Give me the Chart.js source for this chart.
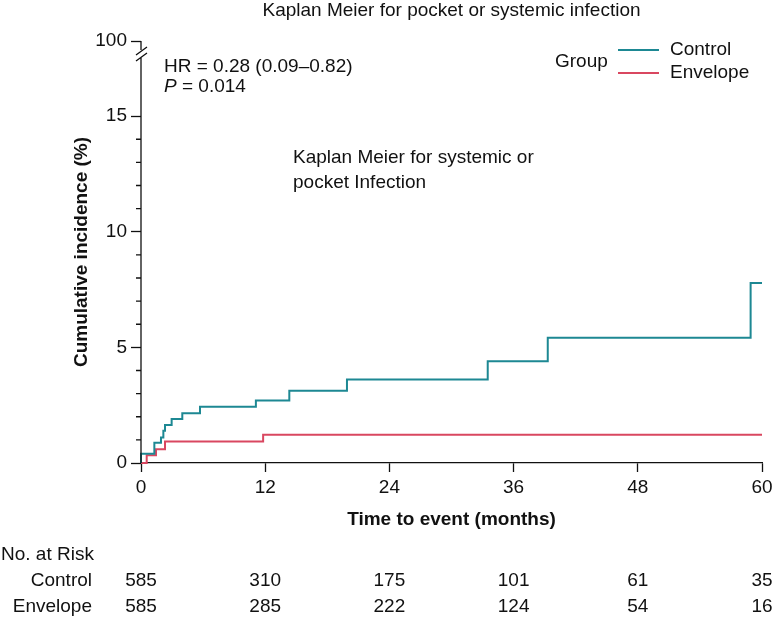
<!DOCTYPE html>
<html>
<head>
<meta charset="utf-8">
<script src="https://cdn.jsdelivr.net/npm/chart.js@4.4.0/dist/chart.umd.min.js"></script>
<style>
  html, body { margin: 0; padding: 0; background: #fff; }
</style>
</head>
<body>
<canvas id="km" width="773" height="619"></canvas>
<script>
// ── data ──────────────────────────────────────────────────────
const controlTimes  = [0, 0, 1.29, 1.93, 2.16, 2.32, 2.96, 3.99, 5.70, 11.1, 14.33, 19.9, 33.5, 39.3, 58.9, 60];
const controlRisk   = [0, 0.40, 0.88, 1.10, 1.39, 1.64, 1.90, 2.15, 2.43, 2.70, 3.12, 3.61, 4.40, 5.42, 7.78, 7.78];
const envelopeTimes = [0, 0.55, 1.45, 2.32, 11.8, 60];
const envelopeRisk  = [0, 0.33, 0.59, 0.93, 1.22, 1.22];

const riskTimes      = [0, 12, 24, 36, 48, 60];
const controlAtRisk  = [585, 310, 175, 101, 61, 35];
const envelopeAtRisk = [585, 285, 222, 124, 54, 16];

const yMajor = [0, 5, 10, 15];
const yMinor = [1, 2, 3, 4, 6, 7, 8, 9, 11, 12, 13, 14];
const Y_TOP = 18.25;          // drawn position of the broken "100" tick
const Y_TOP_LABEL = "100";

const TEAL = "#1d8893", RED = "#d94760", INK = "#111";
const FONT = "'Liberation Sans', Arial, Helvetica, sans-serif";
const FS = 19;

const pts = (xs, ys) => xs.map((x, i) => ({ x, y: ys[i] }));

// ── decorations: broken axis, minor ticks, texts, risk table ──
const decor = {
  id: "decor",
  afterDraw(chart) {
    const { ctx, chartArea: a, scales: { x, y } } = chart;
    ctx.save();
    ctx.strokeStyle = INK; ctx.lineWidth = 1.3;

    // y axis line with break marks
    const yTop = y.getPixelForValue(Y_TOP);
    ctx.beginPath();
    ctx.moveTo(a.left, yTop); ctx.lineTo(a.left, yTop + 9);
    ctx.moveTo(a.left, yTop + 16); ctx.lineTo(a.left, a.bottom);
    ctx.moveTo(a.left - 5, yTop + 14); ctx.lineTo(a.left + 6, yTop + 6);
    ctx.moveTo(a.left - 5, yTop + 20); ctx.lineTo(a.left + 6, yTop + 12);
    ctx.stroke();

    // minor ticks
    ctx.beginPath();
    yMinor.forEach(v => {
      const py = y.getPixelForValue(v);
      ctx.moveTo(a.left - 5, py); ctx.lineTo(a.left, py);
    });
    ctx.stroke();

    ctx.fillStyle = INK;
    const txt = (s, px, py, size, align = "left", weight = "normal", style = "normal") => {
      ctx.font = `${style} ${weight} ${size}px ${FONT}`;
      ctx.textAlign = align; ctx.textBaseline = "middle";
      ctx.fillText(s, px, py);
    };
    const cx = (a.left + a.right) / 2;

    txt("Kaplan Meier for pocket or systemic infection", cx, 11, FS, "center");
    txt("HR = 0.28 (0.09\u20130.82)", 164, 67, FS);
    txt("P", 164, 87, FS, "left", "normal", "italic");
    ctx.font = `italic normal ${FS}px ${FONT}`;
    const pw = ctx.measureText("P").width;
    txt(" = 0.014", 164 + pw, 87, FS);
    txt("Kaplan Meier for systemic or", 293, 158, FS);
    txt("pocket Infection", 293, 183, FS);

    // legend
    txt("Group", 555, 62, FS);
    ctx.lineWidth = 2;
    [[TEAL, "Control", 50], [RED, "Envelope", 73]].forEach(([c, l, py]) => {
      ctx.strokeStyle = c;
      ctx.beginPath(); ctx.moveTo(618, py); ctx.lineTo(659, py); ctx.stroke();
      txt(l, 670, py, FS);
    });

    // axis titles
    txt("Time to event (months)", cx, 520, FS, "center", "bold");
    ctx.save();
    ctx.translate(82, 252); ctx.rotate(-Math.PI / 2);
    txt("Cumulative incidence (%)", 0, 0, FS, "center", "bold");
    ctx.restore();

    // number at risk table
    txt("No. at Risk", 1, 555, FS);
    txt("Control", 92, 581, FS, "right");
    txt("Envelope", 92, 607, FS, "right");
    riskTimes.forEach((t, i) => {
      const px = x.getPixelForValue(t);
      txt(String(controlAtRisk[i]), px, 581, FS, "center");
      txt(String(envelopeAtRisk[i]), px, 607, FS, "center");
    });
    ctx.restore();
  }
};

new Chart(document.getElementById("km"), {
  type: "line",
  data: {
    datasets: [
      { label: "Control",  data: pts(controlTimes, controlRisk),   borderColor: TEAL, borderWidth: 2, stepped: true, pointRadius: 0, fill: false, clip: false },
      { label: "Envelope", data: pts(envelopeTimes, envelopeRisk), borderColor: RED,  borderWidth: 2, stepped: true, pointRadius: 0, fill: false, clip: false },
    ],
  },
  options: {
    responsive: false, animation: false, devicePixelRatio: 1,
    layout: { padding: { top: 41, right: 11, left: 0, bottom: 0 } },
    plugins: { legend: { display: false }, tooltip: { enabled: false }, title: { display: false } },
    scales: {
      x: {
        type: "linear", min: 0, max: 60,
        afterFit: s => { s.height = 156; s.paddingRight = 0; s.paddingLeft = 0; },
        ticks: { stepSize: 12, font: { family: FONT, size: FS }, color: INK, padding: 4, maxRotation: 0 },
        grid: { drawOnChartArea: false, tickLength: 9, tickColor: INK, tickWidth: 1.3 },
        border: { display: true, color: INK, width: 1.3 },
      },
      y: {
        type: "linear", min: 0, max: Y_TOP,
        afterFit: s => { s.width = 141; },
        afterBuildTicks: s => { s.ticks = yMajor.concat([Y_TOP]).map(v => ({ value: v })); },
        ticks: { callback: v => (v === Y_TOP ? Y_TOP_LABEL : v), font: { family: FONT, size: FS }, color: INK, padding: 4, autoSkip: false },
        grid: { drawOnChartArea: false, tickLength: 10, tickColor: INK, tickWidth: 1.3 },
        border: { display: false },
      },
    },
  },
  plugins: [decor],
});
</script>
</body>
</html>
